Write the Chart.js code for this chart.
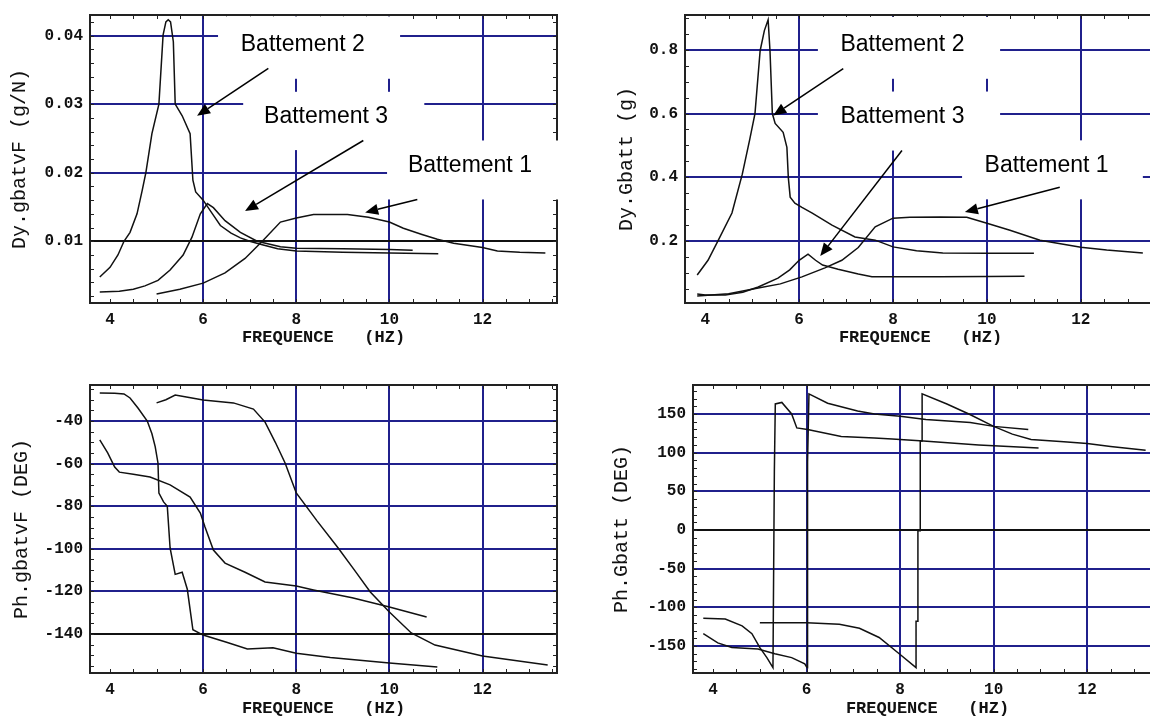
<!DOCTYPE html>
<html>
<head>
<meta charset="utf-8">
<script src="https://cdn.jsdelivr.net/npm/chart.js@4.4.0/dist/chart.umd.min.js"></script>
<style>
  html, body { margin: 0; padding: 0; background: #fff; overflow: hidden; }
  body { width: 1150px; height: 717px; position: relative; }
  canvas { position: absolute; }
  #c1 { left: 0; top: 0; }
  #c2 { left: 575px; top: 0; }
  #c3 { left: 0; top: 358px; }
  #c4 { left: 575px; top: 358px; }
</style>
</head>
<body>
<canvas id="c1" width="575" height="358"></canvas>
<canvas id="c2" width="600" height="358"></canvas>
<canvas id="c3" width="575" height="359"></canvas>
<canvas id="c4" width="600" height="359"></canvas>
<script>
// frequency axis (Hz), shared by the four plots
const freqTicks = [4, 6, 8, 10, 12];

// Dy.gbatvF (g/N) - [frequency, value]
const ampF_b2 = [[3.78,0.0048],[4.00,0.0062],[4.17,0.0080],[4.30,0.0100],[4.43,0.0113],[4.58,0.0140],[4.69,0.0174],[4.77,0.0200],[4.90,0.0257],[5.05,0.0300],[5.14,0.0401],[5.20,0.0420],[5.25,0.0423],[5.30,0.0420],[5.36,0.0391],[5.40,0.0300],[5.55,0.0283],[5.72,0.0257],[5.78,0.0189],[5.84,0.0172],[6.00,0.0160],[6.20,0.0140],[6.37,0.0123],[6.60,0.0112],[6.80,0.0105],[7.00,0.0100],[7.27,0.0095],[7.60,0.0089],[8.00,0.0086],[9.00,0.0084],[10.00,0.0083],[11.05,0.0082]];
const ampF_b3 = [[3.78,0.0026],[4.20,0.0027],[4.50,0.0030],[4.75,0.0035],[5.03,0.0043],[5.29,0.0058],[5.57,0.0080],[5.76,0.0106],[5.94,0.0140],[6.09,0.0155],[6.22,0.0149],[6.47,0.0130],[6.80,0.0113],[7.16,0.0100],[7.66,0.0092],[8.00,0.0090],[9.00,0.0089],[10.00,0.0088],[10.50,0.0087]];
const ampF_b1 = [[5.00,0.0023],[5.50,0.0030],[6.00,0.0039],[6.47,0.0054],[6.90,0.0075],[7.27,0.0100],[7.66,0.0128],[8.00,0.0134],[8.37,0.0139],[9.10,0.0139],[9.55,0.0135],[10.00,0.0128],[10.30,0.0119],[10.70,0.0110],[11.03,0.0103],[11.38,0.0097],[12.00,0.0091],[12.32,0.0086],[12.80,0.0084],[13.35,0.0083]];
const ampFTicks = [0.01, 0.02, 0.03, 0.04];
const ampFLabels = ['0.01', '0.02', '0.03', '0.04'];

// Dy.Gbatt (g)
const ampG_b2 = [[3.83,0.094],[4.06,0.140],[4.28,0.203],[4.57,0.288],[4.79,0.410],[4.95,0.520],[5.06,0.600],[5.17,0.797],[5.26,0.860],[5.34,0.894],[5.38,0.797],[5.43,0.600],[5.49,0.569],[5.66,0.541],[5.74,0.494],[5.77,0.400],[5.81,0.338],[5.91,0.319],[6.06,0.306],[6.28,0.288],[6.70,0.250],[7.19,0.213],[7.62,0.203],[8.00,0.182],[8.50,0.170],[9.06,0.163],[10.00,0.162],[11.00,0.162]];
const ampG_b3 = [[3.83,0.034],[4.00,0.031],[4.43,0.031],[4.80,0.040],[5.13,0.056],[5.55,0.084],[5.80,0.110],[6.00,0.140],[6.19,0.159],[6.35,0.140],[6.50,0.125],[6.83,0.112],[7.26,0.097],[7.55,0.088],[8.00,0.088],[9.00,0.088],[10.00,0.089],[10.80,0.090]];
const ampG_b1 = [[3.83,0.028],[4.50,0.035],[5.13,0.053],[5.60,0.066],[6.06,0.088],[6.55,0.116],[6.91,0.140],[7.26,0.180],[7.62,0.245],[8.00,0.272],[8.36,0.275],[9.00,0.276],[9.57,0.275],[10.00,0.256],[10.49,0.234],[11.13,0.203],[12.00,0.181],[12.55,0.172],[13.32,0.163]];
const ampGTicks = [0.2, 0.4, 0.6, 0.8];
const ampGLabels = ['0.2', '0.4', '0.6', '0.8'];

// Ph.gbatvF (DEG)
const phF_b2 = [[3.78,-26.9],[4.10,-27.0],[4.30,-27.3],[4.43,-29.2],[4.60,-33.9],[4.80,-40.0],[4.90,-46.0],[4.97,-52.0],[5.03,-59.7],[5.05,-73.8],[5.15,-78.0],[5.23,-80.0],[5.29,-99.6],[5.40,-112.0],[5.55,-111.0],[5.66,-119.0],[5.78,-138.0],[6.00,-140.5],[6.52,-144.0],[6.95,-147.0],[7.50,-146.5],[8.00,-149.0],[8.73,-151.0],[10.00,-153.6],[11.03,-155.5]];
const phF_b3 = [[3.78,-48.9],[3.95,-55.0],[4.10,-61.6],[4.20,-64.0],[4.50,-65.0],[4.86,-66.3],[5.29,-70.0],[5.72,-75.7],[5.94,-83.2],[6.04,-89.8],[6.22,-100.6],[6.47,-106.7],[6.90,-111.0],[7.33,-115.6],[8.00,-117.5],[8.37,-119.3],[9.20,-123.0],[10.00,-127.3],[10.80,-132.0]];
const phF_b1 = [[5.00,-31.5],[5.20,-30.0],[5.40,-27.8],[5.70,-29.0],[6.00,-30.1],[6.65,-31.5],[7.08,-34.4],[7.33,-40.5],[7.55,-50.0],[7.76,-59.7],[8.00,-73.8],[8.45,-87.0],[8.90,-99.6],[9.25,-110.0],[9.59,-120.3],[10.00,-129.7],[10.47,-139.5],[10.98,-145.2],[12.00,-150.3],[13.40,-154.5]];
const phFTicks = [-140, -120, -100, -80, -60, -40];
const phFLabels = ['-140', '-120', '-100', '-80', '-60', '-40'];

// Ph.Gbatt (DEG)
const phG_b2 = [[3.79,-114],[4.26,-115],[4.62,-124],[4.83,-134],[5.00,-152],[5.15,-165],[5.26,-176],[5.28,-178],[5.29,-92],[5.31,76],[5.33,163],[5.47,165],[5.68,150],[5.79,132],[6.02,130],[6.74,121],[7.45,119],[7.83,117.6],[8.50,115],[9.68,110],[10.96,106]];
const phG_b3 = [[3.79,-134],[4.10,-146],[4.40,-152],[4.96,-154],[5.32,-160],[5.68,-165],[5.96,-173],[6.01,-178],[6.02,88],[6.05,176],[6.45,164],[7.09,154],[7.45,150],[8.00,147],[8.55,143],[9.50,139],[10.00,134],[10.74,130]];
const phG_b1 = [[5.00,-120],[6.00,-120],[6.70,-122],[7.13,-127],[7.55,-139],[7.98,-160],[8.34,-178],[8.34,-118],[8.38,-118],[8.38,-1],[8.43,-1],[8.43,115],[8.47,115],[8.47,176],[9.00,163],[9.47,150],[10.00,134],[10.40,124],[10.80,117],[11.50,114],[12.00,112],[12.50,108],[13.25,103]];
const phGTicks = [-150, -100, -50, 0, 50, 100, 150];
const phGLabels = ['-150', '-100', '-50', '0', '50', '100', '150'];

const BLUE = '#20208c';
const INK = '#111';
const monoFont = { family: '"Liberation Mono", "DejaVu Sans Mono", monospace', size: 16, weight: 'bold', lineHeight: 1 };
const xTitleFont = { family: '"Liberation Mono", monospace', size: 17, weight: 'bold', lineHeight: 1 };
const yTitleFont = { family: '"Liberation Mono", monospace', size: 20, weight: 'normal', lineHeight: 1 };
const noteFont = '23px "Liberation Sans", Arial, sans-serif';

function drawArrow(ctx, x0, y0, x1, y1) {
  const ang = Math.atan2(y1 - y0, x1 - x0);
  const hl = 13, hw = 5.5;
  const bx = x1 - hl * Math.cos(ang), by = y1 - hl * Math.sin(ang);
  ctx.beginPath();
  ctx.moveTo(x0, y0);
  ctx.lineTo(bx, by);
  ctx.stroke();
  ctx.beginPath();
  ctx.moveTo(x1, y1);
  ctx.lineTo(bx + hw * Math.sin(ang), by - hw * Math.cos(ang));
  ctx.lineTo(bx - hw * Math.sin(ang), by + hw * Math.cos(ang));
  ctx.closePath();
  ctx.fill();
}

// frame with inward minor ticks, then the white label boxes and arrows
const framePlugin = {
  id: 'frame',
  afterDatasetsDraw(chart, args, opts) {
    const { ctx, chartArea: a, scales: { x, y } } = chart;
    ctx.save();
    ctx.strokeStyle = '#222';
    ctx.lineWidth = 1;
    ctx.beginPath();
    for (let i = Math.ceil(x.min / opts.xStep - 1e-9); i * opts.xStep <= x.max + 1e-9; i++) {
      const px = Math.round(x.getPixelForValue(i * opts.xStep)) + 0.5;
      ctx.moveTo(px, a.bottom); ctx.lineTo(px, a.bottom - 4);
      ctx.moveTo(px, a.top); ctx.lineTo(px, a.top + 4);
    }
    for (let i = Math.ceil(y.min / opts.yStep - 1e-9); i * opts.yStep <= y.max + 1e-9; i++) {
      const py = Math.round(y.getPixelForValue(i * opts.yStep)) + 0.5;
      ctx.moveTo(a.left, py); ctx.lineTo(a.left + 4, py);
      ctx.moveTo(a.right, py); ctx.lineTo(a.right - 4, py);
    }
    ctx.stroke();
    ctx.lineWidth = 2;
    ctx.strokeRect(a.left, a.top, a.right - a.left, a.bottom - a.top);
    ctx.restore();
  },
  afterDraw(chart, args, opts) {
    const { ctx, scales: { x, y } } = chart;
    ctx.save();
    (opts.notes || []).forEach(n => {
      const x0 = x.getPixelForValue(n.box[0]), x1 = x.getPixelForValue(n.box[1]);
      const y0 = y.getPixelForValue(n.box[2]), y1 = y.getPixelForValue(n.box[3]);
      ctx.fillStyle = '#fff';
      ctx.fillRect(x0, y0, x1 - x0, y1 - y0);
      ctx.fillStyle = '#000';
      ctx.font = noteFont;
      ctx.textAlign = 'center';
      ctx.textBaseline = 'middle';
      ctx.fillText(n.text, x.getPixelForValue(n.at[0]), y.getPixelForValue(n.at[1]));
    });
    ctx.strokeStyle = '#000';
    ctx.fillStyle = '#000';
    ctx.lineWidth = 1.5;
    (opts.arrows || []).forEach(r => {
      drawArrow(ctx, x.getPixelForValue(r[0]), y.getPixelForValue(r[1]),
                x.getPixelForValue(r[2]), y.getPixelForValue(r[3]));
    });
    ctx.restore();
  }
};

function panel(id, o) {
  return new Chart(document.getElementById(id), {
    type: 'scatter',
    data: {
      datasets: o.series.map(s => ({
        data: s.map(([fx, v]) => ({ x: fx, y: v })),
        showLine: true,
        borderColor: INK,
        borderWidth: 1.5,
        pointRadius: 0,
        tension: 0,
        fill: false
      }))
    },
    options: {
      responsive: false,
      animation: false,
      events: [],
      layout: { padding: o.pad },
      plugins: {
        legend: { display: false },
        tooltip: { enabled: false },
        frame: o.frame
      },
      scales: {
        x: {
          type: 'linear',
          min: 3.57,
          max: 13.6,
          afterBuildTicks: ax => { ax.ticks = freqTicks.map(v => ({ value: v })); },
          afterFit: ax => { ax.height = o.xHeight; },
          ticks: { autoSkip: false, maxRotation: 0, padding: 9, color: INK, font: monoFont,
                   callback: v => String(v) },
          grid: { drawTicks: false, lineWidth: 2,
                  color: c => (c.tick && c.tick.value === 4) ? 'rgba(0,0,0,0)' : BLUE },
          border: { display: false },
          title: { display: true, text: 'FREQUENCE   (HZ)', color: INK, font: xTitleFont,
                   padding: { top: 0, bottom: o.xTitlePad } }
        },
        y: {
          type: 'linear',
          min: o.yMin,
          max: o.yMax,
          afterBuildTicks: ax => { ax.ticks = o.yTicks.map(v => ({ value: v })); },
          afterFit: ax => { ax.width = o.yWidth; },
          ticks: { autoSkip: false, padding: 7, color: INK, font: monoFont,
                   callback: (v, i) => o.yLabels[i] },
          grid: { drawTicks: false, lineWidth: 2,
                  color: c => (c.tick && c.tick.value === o.blackLine) ? INK : BLUE },
          border: { display: false },
          title: { display: true, text: o.yTitle, color: INK, font: yTitleFont,
                   padding: { top: o.yTitlePad, bottom: 0 } }
        }
      }
    },
    plugins: [framePlugin]
  });
}

panel('c1', {
  series: [ampF_b2, ampF_b3, ampF_b1],
  yMin: 0.001, yMax: 0.043, yTicks: ampFTicks, yLabels: ampFLabels, blackLine: 0.01,
  yTitle: 'Dy.gbatvF (g/N)', yTitlePad: 10, yWidth: 90, xHeight: 55, xTitlePad: 12,
  pad: { top: 14, right: 18, left: 0, bottom: 0 },
  frame: {
    xStep: 0.5, yStep: 0.002,
    notes: [
      { text: 'Battement 2', at: [8.14, 0.0387], box: [6.32, 10.23, 0.0428, 0.0337] },
      { text: 'Battement 3', at: [8.64, 0.0282], box: [6.86, 10.75, 0.0318, 0.0233] },
      { text: 'Battement 1', at: [11.73, 0.0211], box: [9.95, 13.67, 0.0247, 0.0161] }
    ],
    arrows: [[7.40, 0.0352, 5.87, 0.0283], [9.44, 0.0247, 6.90, 0.0144], [10.60, 0.0161, 9.48, 0.0142]]
  }
});

panel('c2', {
  series: [ampG_b2, ampG_b3, ampG_b1],
  yMin: 0.006, yMax: 0.909, yTicks: ampGTicks, yLabels: ampGLabels, blackLine: null,
  yTitle: 'Dy.Gbatt (g)', yTitlePad: 42, yWidth: 110, xHeight: 55, xTitlePad: 12,
  pad: { top: 14, right: 19, left: 0, bottom: 0 },
  frame: {
    xStep: 0.5, yStep: 0.05,
    notes: [
      { text: 'Battement 2', at: [8.20, 0.816], box: [6.40, 10.28, 0.903, 0.709] },
      { text: 'Battement 3', at: [8.20, 0.591], box: [6.40, 10.28, 0.669, 0.484] },
      { text: 'Battement 1', at: [11.27, 0.4375], box: [9.47, 13.32, 0.516, 0.331] }
    ],
    arrows: [[6.94, 0.741, 5.45, 0.594], [8.19, 0.484, 6.45, 0.153], [11.55, 0.369, 9.53, 0.291]]
  }
});

panel('c3', {
  series: [phF_b2, phF_b3, phF_b1],
  yMin: -158.3, yMax: -23.1, yTicks: phFTicks, yLabels: phFLabels, blackLine: -140,
  yTitle: 'Ph.gbatvF (DEG)', yTitlePad: 12, yWidth: 90, xHeight: 44, xTitlePad: 0,
  pad: { top: 27, right: 18, left: 0, bottom: 0 },
  frame: { xStep: 0.5, yStep: 5 }
});

panel('c4', {
  series: [phG_b2, phG_b3, phG_b1],
  yMin: -184.9, yMax: 187.5, yTicks: phGTicks, yLabels: phGLabels, blackLine: 0,
  yTitle: 'Ph.Gbatt (DEG)', yTitlePad: 37, yWidth: 118, xHeight: 44, xTitlePad: 0,
  pad: { top: 27, right: 13, left: 0, bottom: 0 },
  frame: { xStep: 0.5, yStep: 10 }
});
</script>
</body>
</html>
